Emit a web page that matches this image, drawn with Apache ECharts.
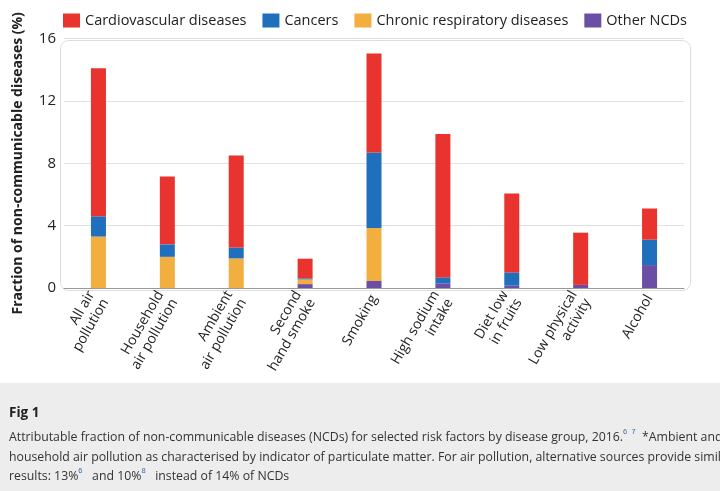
<!DOCTYPE html>
<html><head><meta charset="utf-8">
<script src="https://cdn.jsdelivr.net/npm/echarts@6/dist/echarts.min.js"></script>
<style>html,body{margin:0;padding:0;background:#fff}#c{width:720px;height:491px}</style>
</head><body><div id="c"></div>
<script>
const categories = ["All air\npollution","Household\nair pollution","Ambient\nair pollution","Second\nhand smoke","Smoking","High sodium\nintake","Diet low\nin fruits","Low physical\nactivity","Alcohol"];
const otherNCDs     = [0, 0, 0, 0.25, 0.45, 0.3, 0.15, 0.2, 1.47];
const respiratory   = [3.3, 2.0, 1.9, 0.3, 3.4, 0, 0, 0, 0];
const cancers       = [1.3, 0.8, 0.7, 0.07, 4.85, 0.38, 0.85, 0, 1.63];
const cardiovascular= [9.5, 4.35, 5.9, 1.26, 6.35, 9.2, 5.07, 3.35, 2.0];
const yTicks = [0, 4, 8, 12, 16];

const chart = echarts.init(document.getElementById('c'));
const font = 'Open Sans';
const mk = (name, data, color) => ({name, type:'bar', stack:'a', data, barWidth:15, itemStyle:{color}});
chart.setOption({
  textStyle:{fontFamily:font},
  legend:{top:8, left:58, itemWidth:17, itemHeight:14, itemGap:16, icon:'rect',
    textStyle:{fontSize:14.5, color:'#222', fontFamily:font},
    data:['Cardiovascular diseases','Cancers','Chronic respiratory diseases','Other NCDs']},
  graphic:[
    {type:'rect', left:0, top:383, shape:{width:720, height:108}, style:{fill:'#ededed'}, z:-10},
    {type:'rect', left:58, top:38, shape:{width:630, height:250, r:8}, style:{fill:'none', stroke:'#dddddd', lineWidth:1}, z:-5},
    {type:'text', left:9, top:406, style:{text:'Fig 1', font:'bold 13.5px "Open Sans"', fill:'#222'}},
    {type:'text', left:9, top:428, style:{
      text:'Attributable fraction of non-communicable diseases (NCDs) for selected risk factors by disease group, 2016.{s|6  7}  *Ambient and\nhousehold air pollution as characterised by indicator of particulate matter. For air pollution, alternative sources provide similar\nresults: 13%{s|6}   and 10%{s|8}   instead of 14% of NCDs',
      font:'12.3px "Open Sans"', fill:'#333', lineHeight:19.5,
      rich:{s:{fontSize:7.5, fill:'#3a6ea5', verticalAlign:'top', padding:[0,0,8,0]}}}}
  ],
  grid:{left:64, right:36, top:38.6, bottom:203, containLabel:false},
  xAxis:{type:'category', data:categories,
    axisLine:{lineStyle:{color:'#999'}}, axisTick:{show:false},
    axisLabel:{rotate:60, fontSize:14, color:'#222', lineHeight:16, interval:0, margin:8, align:'right'}},
  yAxis:{type:'value', min:0, max:16, interval:4,
    name:'Fraction of non-communicable diseases (%)', nameLocation:'middle', nameGap:38,
    nameTextStyle:{fontWeight:'bold', fontSize:14, color:'#222', lineHeight:16},
    axisLabel:{fontSize:15, color:'#222', formatter:v=>yTicks.includes(v)?String(v):''},
    splitLine:{lineStyle:{color:'#e2e2e2'}}},
  series:[
    mk('Other NCDs', otherNCDs, '#6b4fa4'),
    mk('Chronic respiratory diseases', respiratory, '#f3ae40'),
    mk('Cancers', cancers, '#1f6fbd'),
    mk('Cardiovascular diseases', cardiovascular, '#e8332f')
  ]
});
</script></body></html>
